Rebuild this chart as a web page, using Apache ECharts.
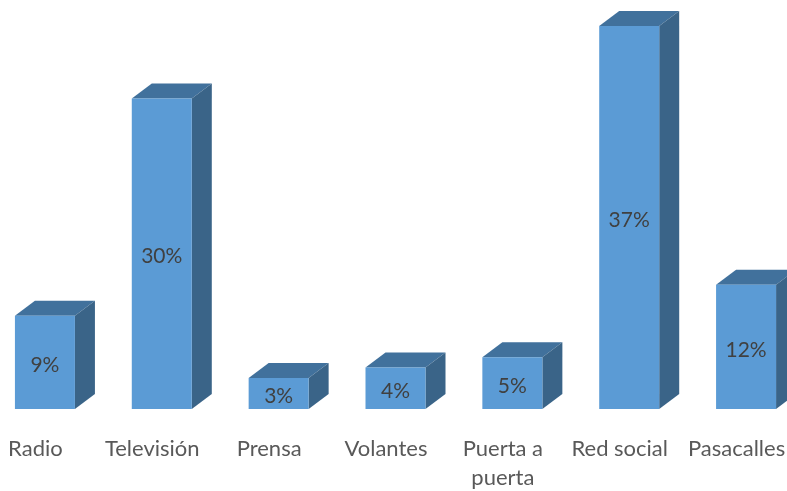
<!DOCTYPE html>
<html>
<head>
<meta charset="utf-8">
<script src="https://cdn.jsdelivr.net/npm/echarts@6/dist/echarts.min.js"></script>
<style>
  html, body { margin: 0; padding: 0; background: #fff; }
  #chart { width: 787px; height: 491px; }
</style>
</head>
<body>
<div id="chart"></div>
<script>
var categories = ['Radio', 'Televisión', 'Prensa', 'Volantes', 'Puerta a\npuerta', 'Red social', 'Pasacalles'];
var values = [9, 30, 3, 4, 5, 37, 12];

var myChart = echarts.init(document.getElementById('chart'));

// fake 3d box: front, top and side faces
function renderBox(params, api) {
  var base = api.coord([api.value(0), 0]);
  var top = api.coord([api.value(0), api.value(1)]);
  var w = 60, dx = 20, dy = 15;
  var left = base[0] - w / 2 + 9.5;
  var right = left + w;
  return {
    type: 'group',
    children: [
      {
        type: 'polygon',
        shape: { points: [[left, top[1]], [left + dx, top[1] - dy], [right + dx, top[1] - dy], [right, top[1]]] },
        style: { fill: '#41719C' }
      },
      {
        type: 'polygon',
        shape: { points: [[right, top[1]], [right + dx, top[1] - dy], [right + dx, base[1] - dy], [right, base[1]]] },
        style: { fill: '#3A6488' }
      },
      {
        type: 'rect',
        shape: { x: left, y: top[1], width: w, height: base[1] - top[1] },
        style: { fill: '#5B9BD5' }
      },
      {
        type: 'text',
        style: {
          text: api.value(1) + '%',
          x: (left + right) / 2,
          y: (top[1] + base[1]) / 2 + 3,
          align: 'center',
          verticalAlign: 'middle',
          fill: '#404040',
          font: '21px Lato'
        }
      }
    ]
  };
}

var option = {
  animation: false,
  grid: { left: -23, width: 818, top: 26, height: 383, outerBoundsMode: 'none' },
  xAxis: {
    type: 'category',
    data: categories,
    axisLine: { show: false },
    axisTick: { show: false },
    axisLabel: {
      interval: 0,
      margin: 25,
      color: '#595959',
      fontFamily: 'Lato',
      fontSize: 22,
      lineHeight: 29
    }
  },
  yAxis: {
    type: 'value',
    min: 0,
    max: 37,
    show: false
  },
  series: [{
    type: 'custom',
    renderItem: renderBox,
    encode: { x: 0, y: 1 },
    data: values.map(function (v, i) { return [i, v]; })
  }]
};
myChart.setOption(option);
</script>
</body>
</html>
